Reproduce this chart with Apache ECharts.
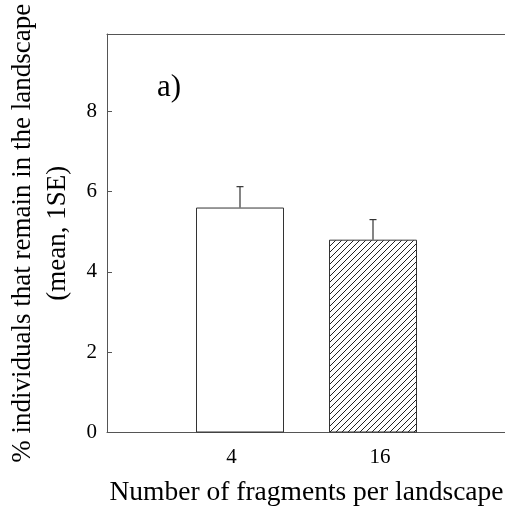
<!DOCTYPE html>
<html>
<head>
<meta charset="utf-8">
<script src="https://cdn.jsdelivr.net/npm/echarts@6/dist/echarts.min.js"></script>
<style>
  html, body { margin: 0; padding: 0; background: #fff; }
  #chart { width: 505px; height: 508px; }
</style>
</head>
<body>
<div id="chart"></div>
<script>
// Number of fragments per landscape (blank slots pad the axis ends)
const categories = ['', '4', '16', ''];
// Mean % of individuals remaining, and one standard error
const meanValues = [null, 5.6, 4.8, null];
const seValues = [null, 0.52, 0.5, null];
const yTicks = [0, 2, 4, 6, 8];

const serif = '"Liberation Serif", "DejaVu Serif", serif';
const ink = '#333';
const axisInk = '#555';

// Diagonal hatching for the 16-fragment bar
function hatchPattern() {
  const s = 6;
  const c = document.createElement('canvas');
  c.width = s; c.height = s;
  const g = c.getContext('2d');
  g.fillStyle = '#fff';
  g.fillRect(0, 0, s, s);
  g.strokeStyle = '#222';
  g.lineWidth = 1;
  g.beginPath();
  g.moveTo(-1, s + 1); g.lineTo(s + 1, -1);
  g.moveTo(-1, 1); g.lineTo(1, -1);
  g.moveTo(s - 1, s + 1); g.lineTo(s + 1, s - 1);
  g.stroke();
  return c;
}

const barData = meanValues.map((v, i) => {
  if (v === null) return '-';
  return {
    value: v,
    itemStyle: i === 1
      ? { color: '#fff', borderColor: ink, borderWidth: 1 }
      : { color: { image: hatchPattern(), repeat: 'repeat' }, borderColor: ink, borderWidth: 1 }
  };
});

const errData = meanValues
  .map((v, i) => (v === null ? null : [i, v, v + seValues[i]]))
  .filter(d => d !== null);

const chart = echarts.init(document.getElementById('chart'), null, { renderer: 'canvas' });

chart.setOption({
  animation: false,
  backgroundColor: '#fff',
  grid: {
    left: 107, top: 34, right: -1, bottom: 75.5,
    containLabel: false,
    outerBoundsMode: 'none'
  },
  xAxis: [
    {
      type: 'category',
      data: categories,
      boundaryGap: false,
      axisLine: { show: true, lineStyle: { color: axisInk, width: 1 } },
      axisTick: { show: false },
      axisLabel: {
        interval: 0,
        margin: 14,
        fontFamily: serif,
        fontSize: 21,
        color: '#000',
        formatter: (v) => v === '4' ? '{l|4}' : (v === '16' ? '{r|16}' : ''),
        rich: {
          l: { fontFamily: serif, fontSize: 21, color: '#000', padding: [0, 17, 0, 0] },
          r: { fontFamily: serif, fontSize: 21, color: '#000', padding: [0, 0, 0, 14] }
        }
      },
      name: 'Number of fragments per landscape',
      nameLocation: 'middle',
      nameGap: 46,
      nameTextStyle: { fontFamily: serif, fontSize: 27.5, color: '#000' }
    },
    {
      type: 'category',
      position: 'top',
      data: categories,
      boundaryGap: false,
      axisLine: { show: true, lineStyle: { color: axisInk, width: 1 } },
      axisTick: { show: false },
      axisLabel: { show: false }
    }
  ],
  yAxis: {
    type: 'value',
    min: 0,
    max: 9.92,
    interval: 2,
    splitLine: { show: false },
    axisLine: { show: true, lineStyle: { color: axisInk, width: 1 } },
    axisTick: { show: true, inside: true, length: 5, lineStyle: { color: axisInk } },
    axisLabel: {
      showMaxLabel: false,
      margin: 10,
      fontFamily: serif,
      fontSize: 21,
      color: '#000',
      formatter: (v) => (yTicks.includes(v) ? String(v) : '')
    },
    name: '% individuals that remain in the landscape\n(mean, 1SE)',
    nameLocation: 'middle',
    nameGap: 27,
    nameRotate: 90,
    nameTextStyle: { fontFamily: serif, fontSize: 27, color: '#000', lineHeight: 35 }
  },
  graphic: [
    {
      type: 'text',
      left: 157,
      top: 72,
      style: { text: 'a)', font: '31px ' + serif, fill: '#000' }
    }
  ],
  series: [
    {
      type: 'bar',
      data: barData,
      barWidth: 88,
      z: 2
    },
    {
      type: 'custom',
      data: errData,
      z: 3,
      renderItem: (params, api) => {
        const top = api.coord([api.value(0), api.value(2)]);
        const base = api.coord([api.value(0), api.value(1)]);
        const cap = 3.5;
        const style = { stroke: ink, lineWidth: 1.2 };
        return {
          type: 'group',
          children: [
            { type: 'line', shape: { x1: base[0], y1: base[1], x2: top[0], y2: top[1] }, style },
            { type: 'line', shape: { x1: top[0] - cap, y1: top[1], x2: top[0] + cap, y2: top[1] }, style }
          ]
        };
      }
    }
  ]
});
</script>
</body>
</html>
